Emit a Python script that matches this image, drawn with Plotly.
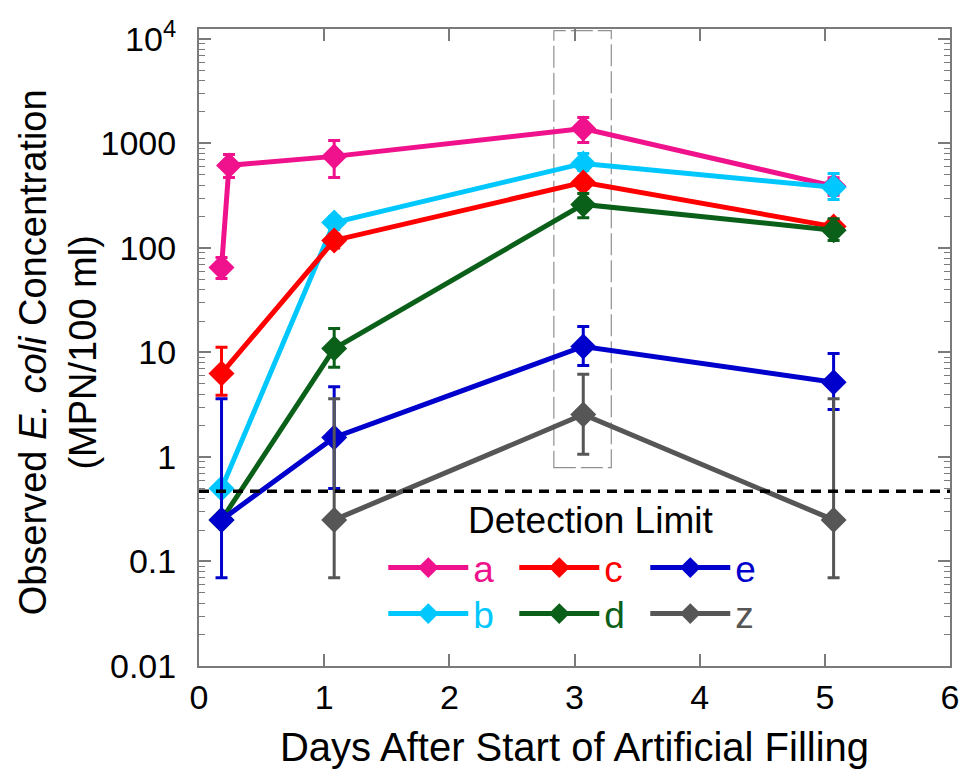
import plotly.graph_objects as go

# ---- data ----
series_names = ["a", "b", "c", "d", "e", "z"]
colors = {"a": "#F0128C", "b": "#00C8FF", "c": "#FF0000", "d": "#0B6019", "e": "#0000CD", "z": "#565656"}

a_x = [0.18, 0.24, 1.08, 3.07, 5.07]
a_y = [65, 616, 752, 1390, 390]
a_hi = [81, 785, 1069, 1775, 470]
a_lo = [51, 473, 473, 1023, 320]

b_x = [0.18, 1.08, 3.07, 5.07]
b_y = [0.5, 175, 644, 380]
b_hi = [0.5, 200, 802, 517]
b_lo = [0.5, 150, 550, 291]

c_x = [0.18, 1.08, 3.07, 5.07]
c_y = [6.3, 118, 424, 160]
c_hi = [11.2, 135, 480, 185]
c_lo = [3.9, 100, 370, 135]

d_x = [0.18, 1.08, 3.07, 5.07]
d_y = [0.25, 10.9, 261, 148]
d_hi = [0.25, 17, 331, 190]
d_lo = [0.25, 7.2, 195, 118]

e_x = [0.18, 1.08, 3.07, 5.07]
e_y = [0.25, 1.54, 11.4, 5.2]
e_hi = [3.6, 4.7, 17.7, 9.8]
e_lo = [0.07, 0.5, 7.5, 2.85]

z_x = [1.08, 3.07, 5.07]
z_y = [0.25, 2.55, 0.25]
z_hi = [3.6, 6.2, 3.6]
z_lo = [0.07, 1.06, 0.07]

detection_limit = 0.47
highlight_x = [2.835, 3.294]
highlight_y = [0.79, 12000]

y_tickvals = [0.01, 0.1, 1, 10, 100, 1000, 10000]
y_ticktext = ["0.01", "0.1", "1", "10", "100", "1000", "10<sup>4</sup>"]
x_tickvals = [0, 1, 2, 3, 4, 5, 6]

data = {
    "a": (a_x, a_y, a_hi, a_lo),
    "b": (b_x, b_y, b_hi, b_lo),
    "c": (c_x, c_y, c_hi, c_lo),
    "d": (d_x, d_y, d_hi, d_lo),
    "e": (e_x, e_y, e_hi, e_lo),
    "z": (z_x, z_y, z_hi, z_lo),
}
legend_of = {"a": "legend", "c": "legend", "e": "legend", "b": "legend2", "d": "legend2", "z": "legend2"}

FONT = "Liberation Sans, Arial, Helvetica, sans-serif"
AX = "#7a7a7a"

fig = go.Figure()

for n in series_names:
    xs, ys, hi, lo = data[n]
    col = colors[n]
    fig.add_trace(go.Scatter(
        x=xs, y=ys, mode="lines+markers",
        name='<span style="color:%s">%s</span>' % (col, n),
        line=dict(color=col, width=5),
        marker=dict(symbol="diamond", size=20, color=col),
        error_y=dict(type="data", symmetric=False,
                     array=[h - v for h, v in zip(hi, ys)],
                     arrayminus=[v - l for v, l in zip(ys, lo)],
                     color=col, thickness=3, width=6),
        legend=legend_of[n],
    ))

# detection limit line
fig.add_trace(go.Scatter(
    x=[x_tickvals[0], x_tickvals[-1]], y=[detection_limit, detection_limit],
    mode="lines", line=dict(color="black", width=3.5, dash="10px,7px"),
    showlegend=False, hoverinfo="skip"))

# highlight box
fig.add_shape(type="rect", xref="x", yref="y",
              x0=highlight_x[0], x1=highlight_x[1], y0=highlight_y[0], y1=highlight_y[1],
              line=dict(color="#909090", width=1.2, dash="22px,5px"), layer="below")

fig.add_annotation(text="Detection Limit", xref="x", yref="paper",
                   x=3.13, y=(666 - 520) / 637, xanchor="center", yanchor="middle",
                   showarrow=False, font=dict(family=FONT, size=37, color="black"))

fig.add_annotation(text="Observed <i>E. coli</i> Concentration<br>(MPN/100 ml)",
                   xref="paper", yref="paper", x=(56 - 199) / 758, y=(666 - 352) / 637,
                   xanchor="center", yanchor="middle",
                   textangle=-90, showarrow=False,
                   font=dict(family=FONT, size=38, color="black"))

legend_common = dict(orientation="h", font=dict(family=FONT, size=37),
                     bgcolor="rgba(0,0,0,0)", entrywidth=36, entrywidthmode="pixels",
                     xanchor="left", yanchor="middle", tracegroupgap=0, itemwidth=80)

fig.update_layout(
    width=971, height=779,
    margin=dict(l=199, r=14, t=29, b=113),
    paper_bgcolor="white", plot_bgcolor="white",
    font=dict(family=FONT, size=33, color="black"),
    showlegend=True,
    legend=dict(x=(385 - 199) / 758, y=(666 - 568) / 637, **legend_common),
    legend2=dict(x=(385 - 199) / 758, y=(666 - 614) / 637, **legend_common),
    xaxis=dict(range=[0, 6], tickvals=x_tickvals, ticks="inside", ticklen=12, tickwidth=1.5,
               tickcolor=AX, showline=True, linecolor=AX, linewidth=2, mirror="ticks",
               showgrid=False, zeroline=False, tickfont=dict(size=34),
               title=dict(text="Days After Start of Artificial Filling", standoff=18,
                          font=dict(size=40))),
    yaxis=dict(type="log", range=[-2, 4.095], tickvals=y_tickvals, ticktext=y_ticktext,
               ticks="inside", ticklen=12, tickwidth=1.5, tickcolor=AX,
               showline=True, linecolor=AX, linewidth=2, mirror="ticks",
               showgrid=False, zeroline=False, tickfont=dict(size=34), ticklabelstandoff=14,
               minor=dict(ticks="inside", ticklen=6, tickcolor=AX, tickwidth=1.2, dtick="D1",
                          showgrid=False)),
)

fig.write_html("out.html")
